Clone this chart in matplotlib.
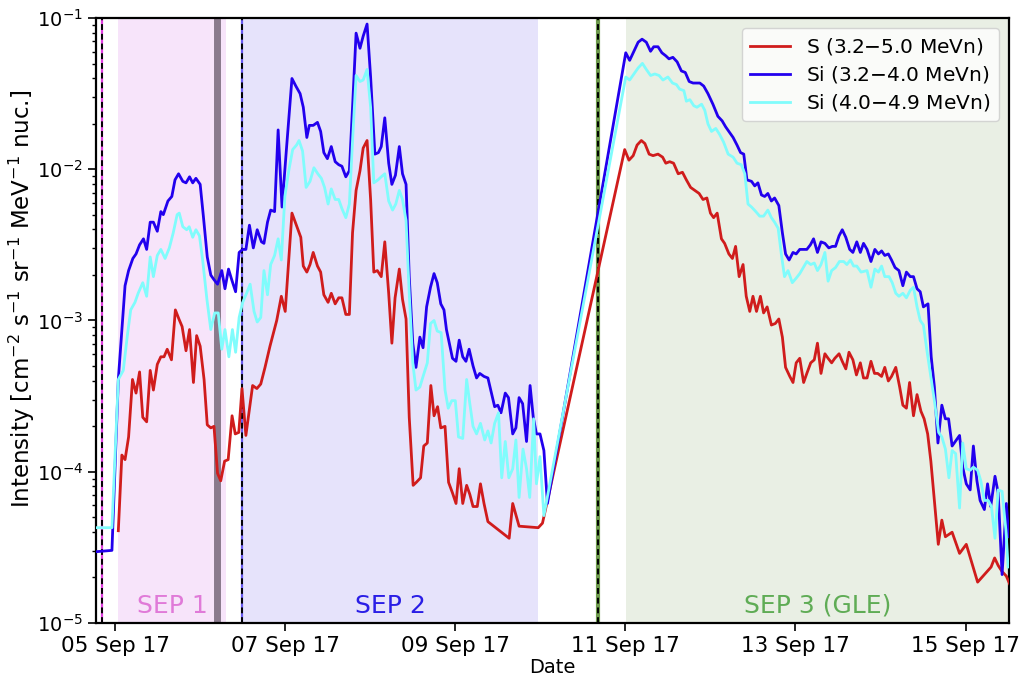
import numpy as np
import pandas as pd
import matplotlib
matplotlib.use("Agg")
import matplotlib.pyplot as plt
import matplotlib.dates as mdates


T0 = pd.Timestamp("2017-09-05 00:00")

# hours after 2017-09-05 00:00 and log10 intensity for each channel
s_hours = [
    0.9, 1.9, 2.8, 3.8, 4.9, 5.9, 6.9, 7.8, 8.9, 9.9, 10.8, 11.9, 12.9, 13.8, 14.7, 15.9,
    17.0, 18.0, 18.9, 20.0, 21.0, 22.1, 23.0, 24.0, 25.1, 26.0, 27.0, 27.9, 28.9, 29.8,
    30.9, 31.9, 33.0, 33.9, 34.9, 35.8, 36.9, 38.8, 40.0, 41.1, 42.3, 43.7, 45.6, 46.9,
    48.0, 49.9, 51.0, 52.4, 53.1, 54.1, 55.0, 55.9, 57.1, 58.0, 58.9, 60.1, 61.0, 62.1,
    63.1, 64.0, 65.1, 66.1, 67.0, 68.0, 69.1, 70.0, 71.1, 72.1, 73.0, 74.0, 75.1, 76.1,
    77.2, 78.1, 79.0, 80.2, 81.1, 82.1, 83.0, 84.1, 85.0, 86.2, 87.1, 88.1, 89.1, 90.0,
    91.0, 91.9, 93.1, 94.1, 95.2, 96.2, 97.1, 98.1, 99.2, 100.1, 101.0, 102.2, 103.1,
    104.1, 105.2, 111.2, 112.2, 114.0, 119.4, 120.6,
    143.8, 145.0, 146.2, 147.3, 148.5, 149.5, 150.7, 151.8, 153.2, 154.5, 155.4, 156.5,
    157.6, 158.9, 160.1, 161.2, 162.4, 163.6, 164.8, 165.9, 167.0, 168.0, 168.9, 169.9,
    171.1, 172.0, 173.2, 174.2, 175.1, 176.1, 177.2, 178.1, 179.1, 180.0, 181.0, 182.1,
    183.0, 184.0, 185.2, 186.3, 187.3, 188.3, 189.2, 190.4, 191.3, 192.2, 193.2, 194.3,
    195.2, 196.3, 197.3, 198.2, 199.2, 200.3, 201.2, 202.2, 203.1, 204.3, 205.2, 206.2,
    207.1, 208.2, 209.2, 210.3, 211.2, 212.2, 213.3, 214.3, 215.2, 216.3, 217.2, 218.2,
    219.1, 220.3, 221.4, 222.3, 223.3, 224.2, 225.3, 226.3, 227.4, 228.3, 229.3, 230.2,
    231.2, 232.3, 233.3, 234.3, 236.2, 238.3, 240.2, 243.4, 245.3, 247.2, 248.2, 249.2,
    250.3, 251.5, 252.4,
]
s_logflux = [
    -4.39, -3.89, -3.92, -3.77, -3.39, -3.48, -3.34, -3.64, -3.67, -3.33, -3.46, -3.29,
    -3.24, -3.24, -3.19, -3.26, -2.93, -2.99, -3.04, -3.20, -3.06, -3.41, -3.10, -3.17,
    -3.39, -3.69, -3.71, -3.70, -4.01, -4.06, -3.93, -3.92, -3.63, -3.75, -3.74, -3.45,
    -3.76, -3.43, -3.45, -3.42, -3.31, -3.17, -3.00, -2.84, -2.94, -2.29, -2.36, -2.45,
    -2.64, -2.68, -2.63, -2.55, -2.64, -2.68, -2.83, -2.88, -2.82, -2.89, -2.85, -2.85,
    -2.96, -2.96, -2.42, -2.14, -2.01, -1.86, -1.81, -2.20, -2.68, -2.67, -2.71, -2.48,
    -2.82, -3.15, -2.85, -2.66, -2.86, -2.99, -3.64, -4.09, -4.07, -4.04, -3.83, -3.81,
    -3.43, -3.63, -3.57, -3.71, -3.70, -4.07, -4.14, -4.21, -3.98, -4.21, -4.09, -4.15,
    -4.23, -4.23, -4.08, -4.21, -4.33, -4.44, -4.21, -4.36, -4.37, -4.34,
    -1.87, -1.94, -1.91, -1.84, -1.81, -1.83, -1.90, -1.91, -1.90, -1.92, -1.96, -1.95,
    -1.96, -2.03, -2.02, -2.07, -2.12, -2.14, -2.16, -2.20, -2.19, -2.29, -2.32, -2.29,
    -2.46, -2.49, -2.56, -2.59, -2.51, -2.71, -2.63, -2.84, -2.94, -2.84, -2.94, -2.84,
    -2.95, -2.91, -3.03, -3.02, -2.99, -3.11, -3.31, -3.37, -3.41, -3.28, -3.25, -3.41,
    -3.35, -3.28, -3.26, -3.15, -3.35, -3.22, -3.25, -3.28, -3.25, -3.22, -3.27, -3.32,
    -3.21, -3.26, -3.36, -3.28, -3.38, -3.38, -3.27, -3.35, -3.35, -3.37, -3.31, -3.40,
    -3.37, -3.31, -3.44, -3.56, -3.58, -3.41, -3.63, -3.49, -3.60, -3.65, -3.75, -3.93,
    -4.19, -4.48, -4.32, -4.43, -4.40, -4.54, -4.48, -4.73, -4.68, -4.63, -4.57, -4.62,
    -4.66, -4.69, -4.74,
]

si_low_hours = [
    -6.0, -0.9, 0.9, 2.8, 3.8, 5.0, 5.9, 6.9, 8.0, 8.9, 9.9, 10.8, 11.9, 12.9, 13.6, 14.9,
    16.0, 16.9, 17.9, 19.1, 20.0, 21.0, 21.9, 22.8, 24.0, 24.9, 26.0, 27.0, 27.9, 28.9,
    30.1, 31.0, 32.0, 32.9, 34.0, 35.0, 36.0, 36.9, 37.9, 39.0, 40.1, 41.3, 42.0, 43.0,
    43.9, 45.0, 46.0, 47.1, 48.4, 49.9, 51.0, 52.2, 53.1, 54.1, 54.8, 55.9, 57.1, 58.0,
    58.9, 59.9, 61.0, 62.1, 63.1, 64.0, 65.1, 66.1, 67.0, 68.0, 69.1, 70.0, 71.1, 72.1,
    73.3, 74.3, 75.1, 76.1, 77.2, 78.1, 79.1, 80.2, 81.1, 82.1, 83.0, 84.0, 84.9, 86.0,
    86.9, 87.9, 89.0, 90.0, 90.9, 91.9, 92.8, 93.5, 94.3, 95.2, 96.2, 97.1, 98.1, 99.0,
    99.9, 101.0, 102.0, 102.9, 104.1, 105.2, 106.1, 107.1, 108.0, 108.9, 110.1, 111.0,
    112.2, 113.1, 114.0, 115.0, 116.1, 117.1, 118.0, 118.9, 119.9, 121.0, 122.0,
    144.1, 145.2, 146.4, 147.6, 148.7, 149.9, 151.1, 152.0, 153.2, 154.3, 155.4, 156.3,
    157.4, 158.6, 159.8, 160.9, 162.0, 163.1, 165.0, 166.1, 167.3, 168.7, 170.1, 171.3,
    172.3, 173.2, 174.4, 175.5, 176.5, 177.4, 178.3, 179.6, 180.5, 181.4, 182.4, 183.3,
    184.2, 185.2, 186.1, 187.3, 188.3, 189.2, 190.2, 191.3, 192.2, 193.2, 194.3, 195.2,
    196.2, 197.1, 198.2, 199.2, 200.3, 201.4, 202.4, 203.3, 204.3, 205.2, 206.2, 207.3,
    208.2, 209.3, 210.3, 211.2, 212.2, 213.3, 214.4, 215.4, 216.3, 217.2, 218.2, 219.1,
    220.1, 221.2, 222.3, 223.3, 224.4, 225.3, 226.3, 227.2, 228.1, 229.4, 230.3, 231.2,
    232.2, 233.3, 234.3, 235.2, 236.2, 237.4, 238.3, 239.2, 240.2, 241.3, 242.2, 243.2,
    244.1, 245.3, 246.2, 247.1, 248.3, 249.2, 250.3, 251.5, 252.2,
]
si_low_logflux = [
    -4.53, -4.52, -3.39, -2.77, -2.67, -2.59, -2.56, -2.50, -2.46, -2.53, -2.35, -2.35,
    -2.41, -2.28, -2.30, -2.21, -2.18, -2.07, -2.03, -2.08, -2.09, -2.05, -2.09, -2.06,
    -2.10, -2.31, -2.58, -2.70, -2.73, -2.76, -2.67, -2.79, -2.66, -2.73, -2.81, -2.55,
    -2.53, -2.53, -2.37, -2.52, -2.40, -2.48, -2.49, -2.35, -2.27, -2.28, -1.74, -2.25,
    -1.85, -1.40, -1.45, -1.50, -1.59, -1.79, -1.71, -1.71, -1.69, -1.75, -1.89, -1.93,
    -1.85, -1.95, -1.97, -1.98, -2.05, -2.01, -1.59, -1.10, -1.20, -1.12, -1.04, -1.39,
    -1.90, -1.89, -1.85, -1.66, -1.96, -2.10, -2.04, -1.85, -2.03, -2.10, -2.71, -3.15,
    -3.31, -3.11, -3.18, -2.91, -2.78, -2.69, -2.75, -2.89, -2.93, -3.06, -3.15, -3.25,
    -3.27, -3.13, -3.24, -3.27, -3.19, -3.30, -3.38, -3.35, -3.37, -3.38, -3.47, -3.57,
    -3.56, -3.61, -3.48, -3.51, -3.75, -3.71, -3.51, -3.55, -3.80, -3.43, -3.64, -3.75,
    -3.75, -3.86, -4.21,
    -1.23, -1.28, -1.22, -1.16, -1.14, -1.16, -1.22, -1.19, -1.19, -1.23, -1.25, -1.27,
    -1.26, -1.29, -1.35, -1.36, -1.42, -1.43, -1.43, -1.45, -1.50, -1.57, -1.65, -1.68,
    -1.72, -1.75, -1.79, -1.84, -1.89, -1.90, -2.07, -2.08, -2.11, -2.09, -2.17, -2.18,
    -2.16, -2.21, -2.19, -2.24, -2.42, -2.56, -2.60, -2.55, -2.56, -2.53, -2.53, -2.53,
    -2.50, -2.46, -2.55, -2.48, -2.49, -2.52, -2.51, -2.51, -2.44, -2.40, -2.45, -2.53,
    -2.55, -2.48, -2.55, -2.49, -2.53, -2.61, -2.53, -2.56, -2.54, -2.57, -2.56, -2.60,
    -2.65, -2.67, -2.77, -2.68, -2.71, -2.71, -2.79, -2.81, -2.91, -2.89, -3.24, -3.44,
    -3.81, -3.56, -3.65, -3.65, -3.83, -3.79, -3.76, -3.97, -4.08, -4.12, -3.83, -4.06,
    -4.19, -4.25, -4.08, -4.23, -4.03, -4.14, -4.68, -4.21, -4.43,
]

si_high_hours = [
    -6.0, -0.9, 0.9, 2.3, 3.5, 4.4, 5.6, 6.5, 7.8, 8.9, 9.9, 10.8, 11.9, 12.9, 14.1, 15.3,
    16.4, 17.5, 18.1, 19.1, 20.2, 20.9, 21.9, 22.8, 23.8, 24.7, 25.9, 27.0, 28.1, 29.1,
    30.1, 31.0, 32.1, 33.1, 34.0, 35.0, 36.0, 37.1, 38.1, 39.2, 40.1, 41.1, 42.0, 43.0,
    43.9, 45.0, 46.0, 46.9, 47.9, 49.0, 50.1, 51.2, 51.9, 52.9, 53.9, 55.0, 56.1, 57.2,
    58.2, 59.1, 60.1, 61.0, 62.1, 63.1, 64.0, 65.1, 66.1, 67.0, 68.0, 69.1, 70.0, 71.1,
    72.1, 73.0, 74.2, 75.1, 76.1, 77.2, 78.3, 79.2, 80.2, 81.1, 82.1, 83.0, 84.0, 84.9,
    86.0, 86.9, 88.1, 89.0, 90.0, 90.9, 92.0, 93.1, 94.0, 95.0, 96.0, 96.9, 98.1, 99.2,
    100.1, 101.0, 102.0, 103.1, 104.3, 105.2, 106.1, 107.1, 108.2, 109.1, 110.1, 111.1,
    112.2, 113.1, 114.0, 115.1, 116.1, 117.0, 118.1, 118.9, 119.9, 121.0,
    144.1, 145.2, 146.4, 147.6, 148.8, 149.9, 151.1, 152.3, 153.5, 154.6, 156.0, 157.3,
    158.4, 159.3, 160.5, 161.2, 162.2, 163.3, 164.2, 165.5, 166.4, 167.3, 168.3, 169.5,
    170.6, 171.7, 173.0, 174.4, 175.5, 176.7, 177.7, 178.6, 179.6, 180.8, 181.9, 183.0,
    184.2, 185.2, 186.1, 187.1, 188.0, 188.9, 189.9, 191.1, 192.2, 193.2, 195.2, 196.3,
    197.3, 198.2, 199.2, 200.3, 201.2, 202.2, 203.3, 204.4, 205.6, 206.5, 207.5, 208.4,
    209.3, 210.5, 212.2, 213.3, 214.4, 215.4, 216.3, 217.2, 218.4, 219.3, 220.3, 221.2,
    222.3, 223.3, 224.4, 225.3, 226.3, 227.2, 228.1, 229.1, 230.3, 231.2, 232.4, 233.3,
    234.3, 235.3, 236.2, 237.2, 238.3, 239.2, 240.2, 241.3, 242.2, 243.4, 244.3, 245.3,
    246.4, 247.3, 248.3, 249.2, 250.3, 251.4, 252.0,
]
si_high_logflux = [
    -4.37, -4.37, -3.39, -3.33, -3.09, -2.93, -2.88, -2.82, -2.75, -2.84, -2.58, -2.71,
    -2.57, -2.53, -2.59, -2.52, -2.42, -2.30, -2.29, -2.38, -2.40, -2.38, -2.45, -2.40,
    -2.44, -2.60, -2.86, -3.06, -2.95, -2.95, -3.19, -3.06, -3.24, -3.06, -3.21, -2.98,
    -2.88, -2.82, -2.76, -2.94, -3.01, -2.98, -2.67, -2.83, -2.63, -2.57, -2.46, -2.60,
    -2.18, -2.01, -1.87, -1.84, -1.81, -1.88, -2.12, -2.08, -1.99, -2.03, -2.06, -2.12,
    -2.23, -2.13, -2.20, -2.20, -2.26, -2.32, -2.23, -1.81, -1.38, -1.42, -1.41, -1.34,
    -1.59, -2.09, -2.07, -2.05, -2.03, -2.21, -2.27, -2.23, -2.14, -2.20, -2.34, -2.82,
    -3.28, -3.46, -3.44, -3.37, -3.28, -3.02, -3.00, -3.07, -3.08, -3.46, -3.58, -3.53,
    -3.53, -3.77, -3.78, -3.39, -3.55, -3.70, -3.75, -3.68, -3.79, -3.73, -3.81, -3.68,
    -3.61, -4.04, -3.80, -4.04, -3.98, -3.79, -4.17, -3.85, -3.98, -4.17, -3.65, -4.08,
    -3.90, -4.29,
    -1.39, -1.41, -1.37, -1.33, -1.30, -1.34, -1.38, -1.37, -1.38, -1.41, -1.39, -1.43,
    -1.44, -1.47, -1.48, -1.55, -1.54, -1.58, -1.59, -1.57, -1.61, -1.70, -1.75, -1.73,
    -1.77, -1.82, -1.90, -1.92, -1.96, -1.97, -2.03, -2.23, -2.25, -2.28, -2.31, -2.31,
    -2.27, -2.32, -2.35, -2.39, -2.56, -2.71, -2.67, -2.75, -2.72, -2.69, -2.61, -2.63,
    -2.62, -2.67, -2.63, -2.55, -2.74, -2.67, -2.65, -2.61, -2.61, -2.63, -2.60, -2.64,
    -2.64, -2.68, -2.67, -2.78, -2.66, -2.68, -2.64, -2.71, -2.71, -2.75, -2.82, -2.84,
    -2.82, -2.85, -2.80, -2.78, -2.91, -3.00, -3.03, -3.20, -3.39, -3.53, -3.74, -3.77,
    -3.85, -4.04, -3.86, -3.88, -4.24, -3.81, -3.98, -3.99, -3.97, -3.99, -4.06, -4.19,
    -4.19, -4.23, -4.44, -4.12, -4.13, -4.39, -4.63,
]

# flare onsets (hours) and event windows (start, end in hours)
flare_hours = [-3.7, 35.8, 136.2]
flare_colors = ["#e040e0", "#6a5cf0", "#6d9a4c"]
flare_widths = [1.6, 1.6, 3.0]
datagap_hour = 28.8
sep_windows = [(0.85, 31.3), (36.1, 119.3), (144.1, 252.4)]
sep_names = ["SEP 1", "SEP 2", "SEP 3 (GLE)"]
sep_label_hours = [16.1, 77.6, 198.3]
sep_fill = ["#f7e4fa", "#e6e3fb", "#e9efe4"]
sep_text = ["#e07ad8", "#2a1ee6", "#5fac55"]


def to_dates(hours):
    return T0 + pd.to_timedelta(np.asarray(hours), unit="h")


def main() -> None:
    fig = plt.figure(figsize=(10.19, 6.77), dpi=100)
    ax = fig.add_axes([0.0942, 0.0798, 0.8958, 0.8936])

    for (start, end), fc in zip(sep_windows, sep_fill):
        ax.axvspan(to_dates([start])[0], to_dates([end])[0], color=fc, lw=0, zorder=0)

    ax.axvline(to_dates([datagap_hour])[0], color="#8a7a8c", lw=5, zorder=1)

    for h, c, w in zip(flare_hours, flare_colors, flare_widths):
        t = to_dates([h])[0]
        ax.axvline(t, color=c, lw=w, zorder=1)
        ax.axvline(t, color="black", lw=1.4, ls=(0, (3, 2)), zorder=1)

    ax.plot(to_dates(s_hours), 10 ** np.array(s_logflux), color="#d01c1c", lw=2,
            label="S (3.2$-$5.0 MeVn)", zorder=3)
    ax.plot(to_dates(si_low_hours), 10 ** np.array(si_low_logflux), color="#2200ee", lw=2,
            label="Si (3.2$-$4.0 MeVn)", zorder=3)
    ax.plot(to_dates(si_high_hours), 10 ** np.array(si_high_logflux), color="#80fcfc", lw=2,
            label="Si (4.0$-$4.9 MeVn)", zorder=3)

    for name, h, c in zip(sep_names, sep_label_hours, sep_text):
        ax.text(to_dates([h])[0], 1.3e-5, name, color=c, fontsize=18,
                ha="center", va="center", zorder=4)

    ax.set_yscale("log")
    ax.set_ylim(1e-5, 1e-1)
    ax.set_xlim(to_dates([-5.4])[0], to_dates([252.2])[0])
    ax.xaxis.set_major_locator(mdates.DayLocator(bymonthday=range(1, 32, 2)))
    ax.xaxis.set_major_formatter(mdates.DateFormatter("%d %b %y"))

    ax.set_xlabel("Date", fontsize=14, labelpad=1)
    ax.set_ylabel("Intensity [cm$^{-2}$ s$^{-1}$ sr$^{-1}$ MeV$^{-1}$ nuc.]", fontsize=16.5)
    ax.yaxis.set_label_coords(-0.065, 0.535)
    ax.tick_params(axis="x", which="major", labelsize=15.5, length=6, width=1.2)
    ax.tick_params(axis="y", which="major", labelsize=14, length=6, width=1.2)
    ax.tick_params(axis="y", which="minor", length=3, width=1)
    for sp in ax.spines.values():
        sp.set_linewidth(1.6)

    ax.legend(loc="upper right", fontsize=14.5, labelspacing=0.35, framealpha=0.8)

    fig.savefig("out.png", dpi=100)
    plt.close(fig)


if __name__ == "__main__":
    main()
